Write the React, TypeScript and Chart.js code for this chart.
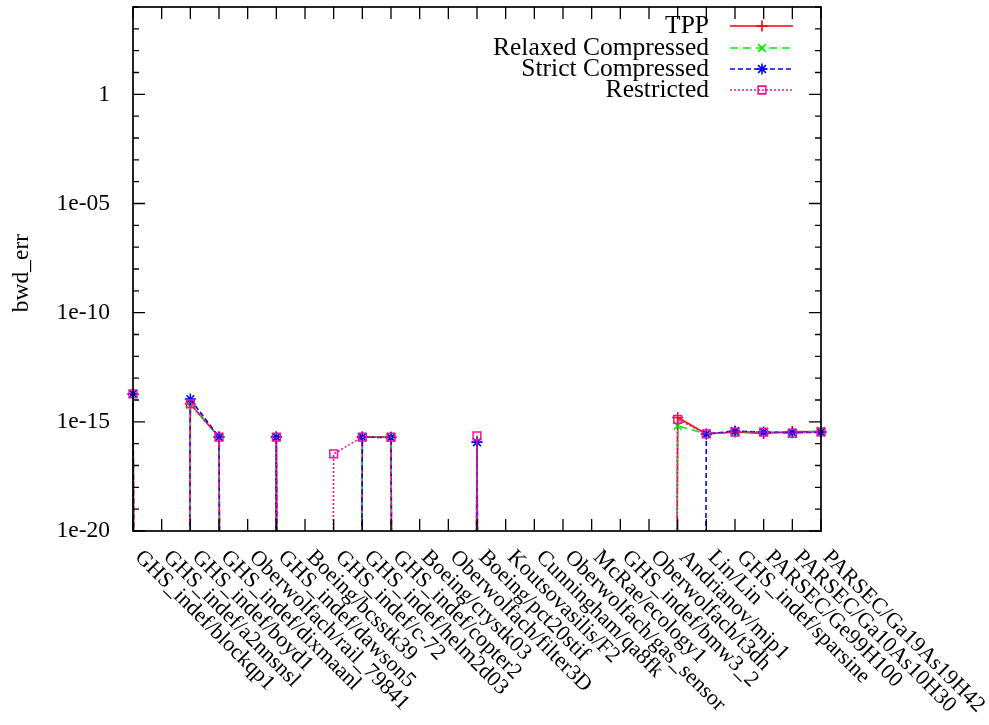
import React, { useEffect, useRef } from 'react';
import { Chart, registerables } from 'chart.js';
import { drawPoint } from 'chart.js/helpers';

Chart.register(...registerables);

// values below the plotted range (drawn off-scale, as in the original)
const OFF = 1e-300;

const categories = [
  'GHS_indef/blockqp1', 'GHS_indef/a2nnsnsl', 'GHS_indef/boyd1', 'GHS_indef/dixmaanl',
  'Oberwolfach/rail_79841', 'GHS_indef/dawson5', 'Boeing/bcsstk39', 'GHS_indef/c-72',
  'GHS_indef/helm2d03', 'GHS_indef/copter2', 'Boeing/crystk03', 'Oberwolfach/filter3D',
  'Boeing/pct20stif', 'Koutsovasilis/F2', 'Cunningham/qa8fk', 'Oberwolfach/gas_sensor',
  'McRae/ecology1', 'GHS_indef/bmw3_2', 'Oberwolfach/t3dh', 'Andrianov/mip1',
  'Lin/Lin', 'GHS_indef/sparsine', 'PARSEC/Ge99H100', 'PARSEC/Ga10As10H30',
  'PARSEC/Ga19As19H42',
];

const tppValues = [
  1.9e-14, OFF, 6.6e-15, 2e-16, OFF, 2e-16, OFF, OFF, 2e-16, 2e-16, OFF, OFF, 1.2e-16,
  OFF, OFF, OFF, OFF, OFF, OFF, 1.6e-15, 2.8e-16, 3.4e-16, 2.9e-16, 3.6e-16, 3.5e-16,
];
const relaxedValues = [
  1.9e-14, OFF, 6.6e-15, 2e-16, OFF, 2e-16, OFF, OFF, 2e-16, 2e-16, OFF, OFF, 1.2e-16,
  OFF, OFF, OFF, OFF, OFF, OFF, 6.6e-16, 2.8e-16, 3.4e-16, 3.4e-16, 3.1e-16, 3.9e-16,
];
const strictValues = [
  1.9e-14, OFF, 1.1e-14, 2e-16, OFF, 2e-16, OFF, OFF, 2e-16, 1.9e-16, OFF, OFF, 1.15e-16,
  OFF, OFF, OFF, OFF, OFF, OFF, OFF, 2.8e-16, 3.8e-16, 3.4e-16, 3.2e-16, 3.3e-16,
];
const restrictedValues = [
  1.9e-14, OFF, 6.6e-15, 2e-16, OFF, 2e-16, OFF, 3.4e-17, 2e-16, 2e-16, OFF, OFF, 2.3e-16,
  OFF, OFF, OFF, OFF, OFF, OFF, 1.3e-15, 2.8e-16, 3.4e-16, 3.4e-16, 3.0e-16, 3.5e-16,
];

const seriesNames = ['TPP', 'Relaxed Compressed', 'Strict Compressed', 'Restricted'];
const yTickValues = [1e-20, 1e-15, 1e-10, 1e-5, 1];
const yTickLabels = ['1e-20', '1e-15', '1e-10', '1e-05', '1'];
const yMinorExponents = [-20, -19, -18, -17, -16, -15, -14, -13, -12, -11, -10, -9, -8, -7, -6, -5, -4, -3, -2, -1, 0, 1, 2, 3, 4];
const yMin = 1e-20;
const yMax = 1e4;
const yTitle = 'bwd_err';

const FONT = '"Liberation Serif", "Times New Roman", serif';

const gnuplotPlugin = {
  id: 'gnuplotDecor',
  afterDatasetsDraw(chart: any) {
    const { ctx, chartArea } = chart;
    const xs = chart.scales.x;
    const ys = chart.scales.y;
    const { left, right, top, bottom } = chartArea;
    ctx.save();
    ctx.strokeStyle = '#000';
    ctx.fillStyle = '#000';

    // ticks
    ctx.lineWidth = 1.3;
    ctx.beginPath();
    for (const e of yMinorExponents) {
      const v = Math.pow(10, e);
      const y = ys.getPixelForValue(v);
      const major = e % 5 === 0;
      const len = major ? 12 : 6;
      ctx.moveTo(left, y); ctx.lineTo(left + len, y);
      ctx.moveTo(right, y); ctx.lineTo(right - len, y);
    }
    for (let i = 0; i < categories.length; i++) {
      const x = xs.getPixelForValue(i);
      ctx.moveTo(x, bottom); ctx.lineTo(x, bottom - 12);
      ctx.moveTo(x, top); ctx.lineTo(x, top + 12);
    }
    ctx.stroke();

    // border
    ctx.lineWidth = 1.7;
    ctx.strokeRect(left, top, right - left, bottom - top);

    // y tick labels
    ctx.font = `23.5px ${FONT}`;
    ctx.textAlign = 'right';
    ctx.textBaseline = 'middle';
    yTickValues.forEach((v, i) => {
      ctx.fillText(yTickLabels[i], left - 23, ys.getPixelForValue(v));
    });

    // x tick labels rotated
    ctx.font = `22px ${FONT}`;
    ctx.textAlign = 'left';
    ctx.textBaseline = 'middle';
    categories.forEach((c, i) => {
      const x = xs.getPixelForValue(i);
      ctx.save();
      ctx.translate(x + 5, bottom + 23);
      ctx.rotate(Math.PI / 4);
      ctx.fillText(c, 0, 0);
      ctx.restore();
    });

    // y title
    ctx.save();
    ctx.font = `23.5px ${FONT}`;
    ctx.textAlign = 'center';
    ctx.textBaseline = 'middle';
    ctx.translate(22, (top + bottom) / 2 + 4);
    ctx.rotate(-Math.PI / 2);
    ctx.fillText(yTitle, 0, 0);
    ctx.restore();

    // legend
    ctx.font = `25.5px ${FONT}`;
    ctx.textAlign = 'right';
    ctx.textBaseline = 'middle';
    const rowY = [19, 41, 62, 83];
    chart.data.datasets.forEach((ds: any, i: number) => {
      const y = top + rowY[i];
      ctx.fillStyle = '#000';
      ctx.fillText(ds.label, right - 112, y);
      ctx.save();
      ctx.strokeStyle = ds.borderColor;
      ctx.lineWidth = ds.borderWidth;
      ctx.setLineDash(ds.borderDash || []);
      ctx.beginPath();
      ctx.moveTo(right - 91, y);
      ctx.lineTo(right - 28, y);
      ctx.stroke();
      ctx.setLineDash([]);
      ctx.fillStyle = 'rgba(0,0,0,0)';
      drawPoint(ctx, {
        pointStyle: ds.pointStyle,
        radius: ds.pointRadius,
        borderWidth: ds.pointBorderWidth,
        rotation: 0,
      }, right - 59, y);
      ctx.restore();
    });
    ctx.restore();
  },
};

export default function App() {
  const ref = useRef<HTMLCanvasElement>(null);
  useEffect(() => {
    if (!ref.current) return;
    const colors = ['#ff0000', '#00ee00', '#0000ff', '#f0109a'];
    const dashes = [[], [8, 5], [5, 3], [2, 2]];
    const styles = ['cross', 'crossRot', 'star', 'rect'];
    const values = [tppValues, relaxedValues, strictValues, restrictedValues];
    const chart = new Chart(ref.current, {
      type: 'line',
      data: {
        labels: categories,
        datasets: seriesNames.map((name, i) => ({
          label: name,
          data: values[i],
          borderColor: colors[i],
          backgroundColor: 'rgba(0,0,0,0)',
          pointBorderColor: colors[i],
          pointBackgroundColor: 'rgba(0,0,0,0)',
          borderWidth: 1.6,
          borderDash: dashes[i],
          pointStyle: styles[i],
          pointRadius: 5.5,
          pointBorderWidth: 1.5,
          tension: 0,
          fill: false,
          order: 3 - i,
        })),
      },
      options: {
        animation: false,
        responsive: false,
        events: [],
        layout: { padding: { left: 133, right: 168, top: 1, bottom: 194 } },
        plugins: { legend: { display: false }, tooltip: { enabled: false }, title: { display: false } },
        scales: {
          x: { type: 'category', offset: false, display: false },
          y: { type: 'logarithmic', min: yMin, max: yMax, display: false },
        },
      },
      plugins: [gnuplotPlugin],
    });
    return () => chart.destroy();
  }, []);
  return (
    <div style={{ position: 'absolute', left: 0, top: 0, width: 989, height: 725, background: '#fff' }}>
      <canvas ref={ref} width={989} height={725} />
    </div>
  );
}
